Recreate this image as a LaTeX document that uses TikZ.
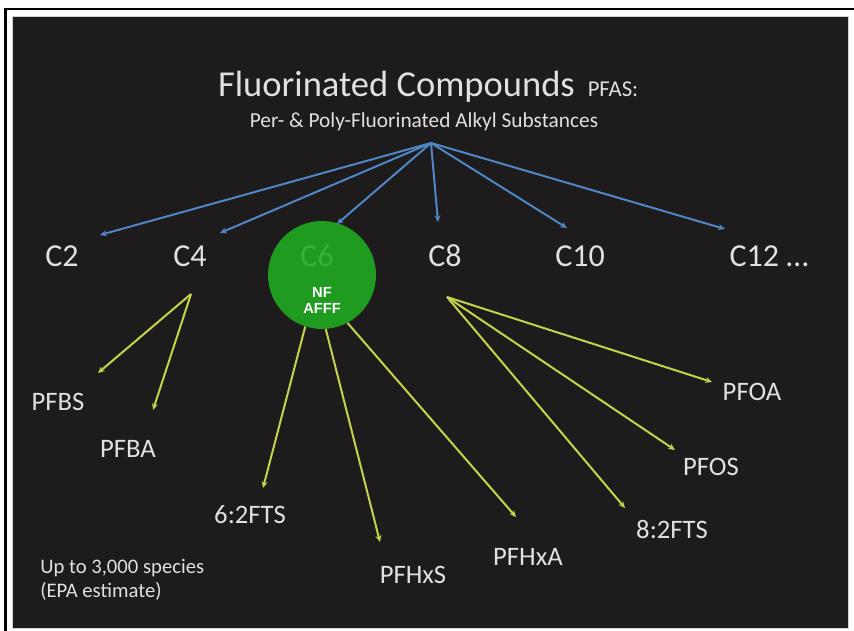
\documentclass[tikz,border=0pt]{standalone}
\usepackage{fontspec}
\setmainfont{Carlito}
\newfontfamily\nfsans{Liberation Sans}
\usetikzlibrary{arrows.meta}
\definecolor{slidebg}{HTML}{1D1B1B}
\definecolor{lighttext}{HTML}{E0E0E0}
\definecolor{arrblue}{HTML}{4F86C6}
\definecolor{arrgreen}{HTML}{C5D24A}
\definecolor{circgreen}{HTML}{1F9C1F}
\definecolor{faintgreen}{HTML}{3AB03A}
\begin{document}
\begin{tikzpicture}[x=0.75pt,y=-0.75pt,
  txt/.style={text=lighttext, inner sep=0pt, anchor=base},
  clabel/.style={txt, font=\fontsize{24pt}{28pt}\selectfont},
  leaf/.style={txt, font=\fontsize{20pt}{24pt}\selectfont},
  bluearr/.style={draw=arrblue, line width=1.5pt, -{Stealth[length=5pt,width=4.5pt]}},
  greenarr/.style={draw=arrgreen, line width=1.5pt, -{Stealth[length=5pt,width=4.5pt]}}]
\useasboundingbox (0,0) rectangle (854,631);
\fill[white] (0,0) rectangle (854,631);
\draw[fill=slidebg, draw=gray!35, line width=0.6pt] (12,16) rectangle (848,628);
\draw[black, line width=2pt] (4,9) -- (854,9);
\draw[black, line width=1.6pt] (5.5,8) -- (5.5,631);

% titles
\node[txt, font=\fontsize{27.4pt}{32pt}\selectfont] (title) at (396.5,97) {Fluorinated Compounds};
\node[txt, font=\fontsize{17pt}{20pt}\selectfont] (pfas) at (613,97) {PFAS:};
\node[txt, font=\fontsize{16pt}{19pt}\selectfont] (sub) at (424,128) {Per- \& Poly-Fluorinated Alkyl Substances};

% circle
\node[circle, fill=circgreen, minimum size=81pt, inner sep=0pt] (circ) at (322,275) {};

% chain labels
\node[clabel] (c2) at (62,267) {C2};
\node[clabel] (c4) at (190,267) {C4};
\node[clabel, text=faintgreen] (c6) at (317,267) {C6};
\node[clabel] (c8) at (445,267) {C8};
\node[clabel] (c10) at (580,267) {C10};
\node[clabel] (c12) at (769,267) {C12 \dots};

\node[inner sep=0pt, text=white, font=\nfsans\bfseries\fontsize{11pt}{13pt}\selectfont, align=center] (nf) at (322,300) {NF\\[-1pt]AFFF};

% leaves
\node[leaf] (pfbs) at (58,410) {PFBS};
\node[leaf] (pfba) at (128,457) {PFBA};
\node[leaf] (fts6) at (250,523) {6:2FTS};
\node[leaf] (pfhxs) at (413,583) {PFHxS};
\node[leaf] (pfhxa) at (528,565) {PFHxA};
\node[leaf] (fts8) at (672,538) {8:2FTS};
\node[leaf] (pfos) at (711,475) {PFOS};
\node[leaf] (pfoa) at (752,400) {PFOA};

\node[txt, anchor=base west, font=\fontsize{15.5pt}{18pt}\selectfont] (note) at (40,573) {Up to 3,000 species};
\node[txt, anchor=base west, font=\fontsize{15.5pt}{18pt}\selectfont] (note2) at (40,597) {(EPA estimate)};

% hubs and tips
\coordinate (hub) at (431,143);
\coordinate (t2) at (100,235);
\coordinate (t4) at (220,233);
\coordinate (t6) at (337,224);
\coordinate (t8) at (438,222);
\coordinate (t10) at (567,228);
\coordinate (t12) at (725,229);

\coordinate (h4) at (191,294);
\coordinate (h8) at (447,297);
\coordinate (tpfbs) at (98,373);
\coordinate (tpfba) at (153,410);
\coordinate (tfts6) at (263,488);
\coordinate (tpfhxs) at (380,542);
\coordinate (tpfhxa) at (516,517);
\coordinate (tfts8) at (625,508);
\coordinate (tpfos) at (675,450);
\coordinate (tpfoa) at (712,382);

\foreach \t in {t2,t4,t6,t8,t10,t12}
  \draw[bluearr] (hub) -- (\t);

\draw[greenarr] (h4) -- (tpfbs);
\draw[greenarr] (h4) -- (tpfba);
\draw[greenarr] (circ.252) -- (tfts6);
\draw[greenarr] (circ.274) -- (tpfhxs);
\draw[greenarr] (circ.298) -- (tpfhxa);
\draw[greenarr] (h8) -- (tfts8);
\draw[greenarr] (h8) -- (tpfos);
\draw[greenarr] (h8) -- (tpfoa);
\end{tikzpicture}
\end{document}
